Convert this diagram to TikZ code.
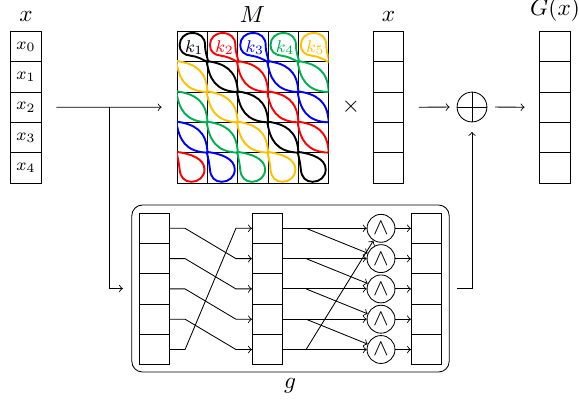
\documentclass[tikz,border=0pt,11pt]{standalone}
\usetikzlibrary{calc}
\definecolor{keyblack}{RGB}{0,0,0}
\definecolor{keyred}{RGB}{255,0,0}
\definecolor{keyblue}{RGB}{0,0,255}
\definecolor{keygreen}{RGB}{0,176,80}
\definecolor{keyyellow}{RGB}{255,192,0}
\colorlet{strand0}{keyblack}
\colorlet{strand1}{keyred}
\colorlet{strand2}{keyblue}
\colorlet{strand3}{keygreen}
\colorlet{strand4}{keyyellow}
\tikzset{
  wordcell/.style={draw,minimum size=0.5cm,inner sep=0pt},
  andgate/.style={draw,circle,minimum size=13.1pt,inner sep=0pt},
  strandline/.style={line width=0.9pt},
}
% one matrix cell, unit square, top left corner at the origin
\newcommand{\leafcell}{(-0.03,0.03) .. controls (0.55,-0.06) and (0.98,-0.25) .. (1,-1.03)
  (-0.03,0.03) .. controls (0.06,-0.55) and (0.25,-0.98) .. (1.03,-1)}
\newcommand{\tophook}{(1.03,-1.03) .. controls (0.85,-0.92) and (0.65,-0.82) .. (0.45,-0.8)
  .. controls (0.22,-0.78) and (0.08,-0.65) .. (0.08,-0.45)
  .. controls (0.08,-0.22) and (0.25,-0.05) .. (0.5,-0.05)
  .. controls (0.75,-0.05) and (0.92,-0.2) .. (0.92,-0.45)
  .. controls (0.92,-0.7) and (1,-0.85) .. (1.03,-1.03)}
\newcommand{\bottomhook}{(-0.03,0.03) .. controls (0.45,-0.03) and (0.9,-0.2) .. (0.9,-0.55)
  .. controls (0.9,-0.8) and (0.7,-0.96) .. (0.47,-0.96)
  .. controls (0.25,-0.96) and (0.1,-0.82) .. (0.08,-0.55)
  .. controls (0.06,-0.35) and (0.02,-0.15) .. (-0.03,0.03)}
\begin{document}
\begin{tikzpicture}[x=0.4695pt,y=-0.4695pt]
\useasboundingbox (0,0) rectangle (579,405);
% input word
\node (labelx) at (26,16) {$x$};
\foreach \i in {0,...,4}
  \node[wordcell] (x\i) at (26,{46.7+30.3*\i}) {\scriptsize $x_{\i}$};
% matrix
\node (labelM) at (252.5,15) {$M$};
\node[minimum size=2.5cm,inner sep=0pt] (M) at (252.7,107.2) {};
\begin{scope}[shift={(177.2,31.5)},x=14.226pt,y=14.226pt]
\draw[step=1] (0,0) grid (5,-5);
\draw (0,0) rectangle (5,-5);
\begin{scope}
\clip (0,0) rectangle (5,-5);
\foreach \r in {0,...,4}
  \foreach \c in {0,...,4} {
    \pgfmathtruncatemacro{\d}{mod(\c-\r+5,5)}
    \ifnum\r=0
      \draw[strandline,strand\d,shift={(\c,-\r)}] \tophook;
    \else\ifnum\r=4
      \draw[strandline,strand\d,shift={(\c,-\r)}] \bottomhook;
    \else
      \draw[strandline,strand\d,shift={(\c,-\r)}] \leafcell;
    \fi\fi
  }
\end{scope}
\foreach \c in {0,...,4} {
  \pgfmathtruncatemacro{\k}{\c+1}
  \node[strand\c,inner sep=0pt,font=\scriptsize] (k\k) at ({\c+0.56},-0.54) {$k_{\k}$};
}
\end{scope}
\node (times) at (351,107) {$\times$};
% second copy of the word
\node (labelxb) at (388.5,16) {$x$};
\foreach \i in {0,...,4}
  \node[wordcell] (y\i) at (388.5,{46.7+30.3*\i}) {};
% result
\node (labelG) at (555,10) {$G(x)$};
\foreach \i in {0,...,4}
  \node[wordcell] (r\i) at (555,{46.7+30.3*\i}) {};
\node[draw,circle,minimum size=14pt,inner sep=0pt] (oplus) at (472,107) {};
\draw (oplus.north) -- (oplus.south);
\draw (oplus.west) -- (oplus.east);
\draw[->,shorten <=7pt,shorten >=7pt] (x2.east) -- (M.west);
\draw[->,shorten <=7pt,shorten >=3.3pt] (y2.east) -- (oplus.west);
\draw[->,shorten <=3.7pt,shorten >=7pt] (oplus.east) -- (r2.west);
% function g
\node[draw,rounded corners=5pt,minimum width=149pt,minimum height=78.4pt,inner sep=0pt] (g) at (290.5,288.5) {};
\node (labelg) at (290,386) {$g$};
\coordinate (branch) at (109,107);
\draw (branch) -- (branch |- g.west);
\draw[->,shorten >=4pt] (branch |- g.west) -- (g.west);
\draw[->,shorten <=3.7pt,shorten >=4.5pt] (g.east) -| (oplus.south);
\foreach \i in {0,...,4} {
  \node[wordcell] (a\i) at (154.5,{228.3+30.3*\i}) {};
  \node[wordcell] (b\i) at (267.5,{228.3+30.3*\i}) {};
  \node[wordcell] (c\i) at (426.5,{228.3+30.3*\i}) {};
  \node[andgate] (and\i) at (381,{228.3+30.3*\i}) {$\wedge$};
  \coordinate (tap\i) at ($(b\i.east)+(23,0)$);
}
\foreach \i/\j in {0/1,1/2,2/3,3/4,4/0} {
  \draw[->] (a\i.east) -- ++(15,0) -- ($(b\j.west)+(-16,0)$) -- (b\j.west);
  \draw[->] (b\i.east) -- (and\i);
  \draw[->] (tap\i) -- (and\j);
  \draw[->] (and\i) -- (c\i.west);
}
\end{tikzpicture}
\end{document}
